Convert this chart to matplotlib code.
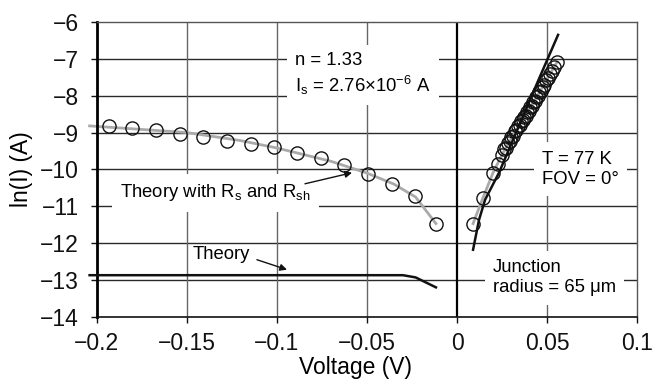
#!/usr/bin/env python3
"""
ln(I)-V characteristic of a photodiode junction with theory curves.
"""
import matplotlib
matplotlib.use("Agg")
import matplotlib.pyplot as plt

plt.rcParams['font.family'] = ['Liberation Sans', 'DejaVu Sans']
plt.rcParams['mathtext.fontset'] = 'custom'
plt.rcParams['mathtext.rm'] = 'Liberation Sans'
plt.rcParams['mathtext.it'] = 'Liberation Sans:italic'

# Measured points, reverse bias side
neg_v = [-0.1933, -0.1806, -0.1672, -0.1539, -0.1411, -0.1278, -0.1144, -0.1017,
         -0.0889, -0.0756, -0.0628, -0.0494, -0.0361, -0.0233, -0.0117]
neg_lni = [-8.82, -8.88, -8.94, -9.04, -9.12, -9.22, -9.32, -9.40,
           -9.56, -9.69, -9.88, -10.12, -10.39, -10.73, -11.47]

# Measured points, forward bias side
pos_v = [0.0089, 0.0144, 0.0200, 0.0228, 0.0250, 0.0262, 0.0272, 0.0283, 0.0292,
         0.0301, 0.0311, 0.0320, 0.0330, 0.0338, 0.0347, 0.0356, 0.0364, 0.0372,
         0.0381, 0.0390, 0.0398, 0.0406, 0.0415, 0.0423, 0.0431, 0.0440, 0.0448,
         0.0457, 0.0466, 0.0475, 0.0484, 0.0494, 0.0504, 0.0515, 0.0527, 0.0540,
         0.0556]
pos_lni = [-11.47, -10.77, -10.09, -9.85, -9.62, -9.46, -9.42, -9.28, -9.24,
           -9.12, -9.09, -8.96, -8.94, -8.83, -8.80, -8.70, -8.67, -8.57,
           -8.54, -8.44, -8.41, -8.31, -8.28, -8.17, -8.15, -8.04, -8.01,
           -7.90, -7.87, -7.76, -7.70, -7.58, -7.53, -7.42, -7.33, -7.22,
           -7.08]

# Theory with series and shunt resistance (grey curve)
rs_neg_v = [-0.204, -0.18, -0.15, -0.12, -0.10, -0.07, -0.05, -0.035, -0.023, -0.0117]
rs_neg_lni = [-8.82, -8.90, -9.00, -9.22, -9.42, -9.78, -10.10, -10.40, -10.75, -11.47]
rs_pos_v = [0.0089, 0.0144, 0.0200, 0.0250, 0.0300, 0.0350, 0.0400, 0.0450, 0.0500, 0.0556]
rs_pos_lni = [-11.47, -10.77, -10.09, -9.60, -9.17, -8.77, -8.37, -7.97, -7.55, -7.08]

# Ideal diode theory (black curve)
th_neg_v = [-0.204, -0.10, -0.03, -0.023, -0.0117]
th_neg_lni = [-12.87, -12.87, -12.87, -12.93, -13.20]
th_pos_v = [0.0089, 0.0122, 0.0156, 0.0233, 0.0350, 0.0450, 0.0561]
th_pos_lni = [-12.18, -11.37, -10.82, -10.09, -8.75, -7.60, -6.35]

x_ticks = [-0.2, -0.15, -0.1, -0.05, 0, 0.05, 0.1]
x_labels = ['\u22120.2', '\u22120.15', '\u22120.1', '\u22120.05', '0', '0.05', '0.1']
y_ticks = [-14, -13, -12, -11, -10, -9, -8, -7, -6]
y_labels = ['\u2212%d' % abs(t) for t in y_ticks]


def main():
    fig = plt.figure(figsize=(6.63, 3.85), dpi=100)
    ax = fig.add_axes([0.146, 0.177, 0.815, 0.766])

    # grid: dark horizontals, grey verticals
    for y in y_ticks[1:-1]:
        ax.axhline(y, color='#2a2a2a', lw=1.0, zorder=0)
    for x in [-0.15, -0.1, -0.05, 0.05]:
        ax.axvline(x, color='#666666', lw=1.0, zorder=0)
    ax.axvline(0, color='black', lw=1.6, zorder=1)

    # curves
    ax.plot(rs_neg_v, rs_neg_lni, color='#aaaaaa', lw=2, zorder=2, clip_on=False)
    ax.plot(rs_pos_v, rs_pos_lni, color='#aaaaaa', lw=2, zorder=2)
    ax.plot(th_neg_v, th_neg_lni, color='#111111', lw=1.8, zorder=3, clip_on=False)
    ax.plot(th_pos_v, th_pos_lni, color='#111111', lw=1.8, zorder=3)

    # measured data
    ax.plot(neg_v, neg_lni, 'o', ms=9.5, mfc='none', mec='#111111', mew=1.0, zorder=4)
    ax.plot(pos_v, pos_lni, 'o', ms=9.5, mfc='none', mec='#111111', mew=1.0, zorder=4)

    ax.set_xlim(-0.2, 0.1)
    ax.set_ylim(-14, -6)
    ax.set_xticks(x_ticks)
    ax.set_xticklabels(x_labels)
    ax.set_yticks(y_ticks)
    ax.set_yticklabels(y_labels)
    ax.tick_params(direction='out', length=4, width=1, labelsize=16.5,
                   colors='#111111')
    ax.tick_params(axis='x', pad=7)
    ax.tick_params(axis='y', pad=9)

    ax.spines['left'].set_linewidth(2)
    ax.spines['left'].set_color('black')
    ax.spines['bottom'].set_linewidth(1.2)
    ax.spines['bottom'].set_color('#111111')
    for s in ['top', 'right']:
        ax.spines[s].set_color('#555555')
        ax.spines[s].set_linewidth(1)

    ax.set_xlabel('Voltage (V)', fontsize=16.5, va='center')
    ax.xaxis.set_label_coords(0.478, -0.172)
    ax.set_ylabel('ln(I) (A)', fontsize=16.5, va='center')
    ax.yaxis.set_label_coords(-0.14, 0.5)

    box = dict(facecolor='white', edgecolor='none', pad=6)
    fs = 13.3

    ax.text(-0.09, -7.42, 'n = 1.33\n$\\mathregular{I_s}$ = 2.76\u00d710$^{\\mathregular{\u22126}}$ A',
            fontsize=fs, va='center', ha='left', bbox=box, zorder=3, linespacing=1.25)
    ax.text(0.0472, -10.0, 'T = 77 K\nFOV = 0\u00b0',
            fontsize=fs, va='center', ha='left', bbox=box, zorder=3, linespacing=1.25)
    ax.text(0.02, -12.94, 'Junction\nradius = 65 \u03bcm',
            fontsize=fs, va='center', ha='left', bbox=box, zorder=3, linespacing=1.25)
    ax.text(-0.1872, -10.64, 'Theory with $\\mathregular{R_s}$ and $\\mathregular{R_{sh}}$',
            fontsize=fs, va='center', ha='left', bbox=box, zorder=3)
    ax.text(-0.1467, -12.31, 'Theory', fontsize=fs, va='center', ha='left', zorder=3)

    arrow = dict(arrowstyle='-|>', color='#111111', lw=1, mutation_scale=10,
                 shrinkA=0, shrinkB=0)
    ax.annotate('', xy=(-0.0583, -10.09), xytext=(-0.0844, -10.39),
                arrowprops=arrow, zorder=5)
    ax.annotate('', xy=(-0.0944, -12.72), xytext=(-0.1111, -12.45),
                arrowprops=arrow, zorder=5)

    fig.savefig('out.png', dpi=100)
    return 0


if __name__ == "__main__":
    exit(main())
